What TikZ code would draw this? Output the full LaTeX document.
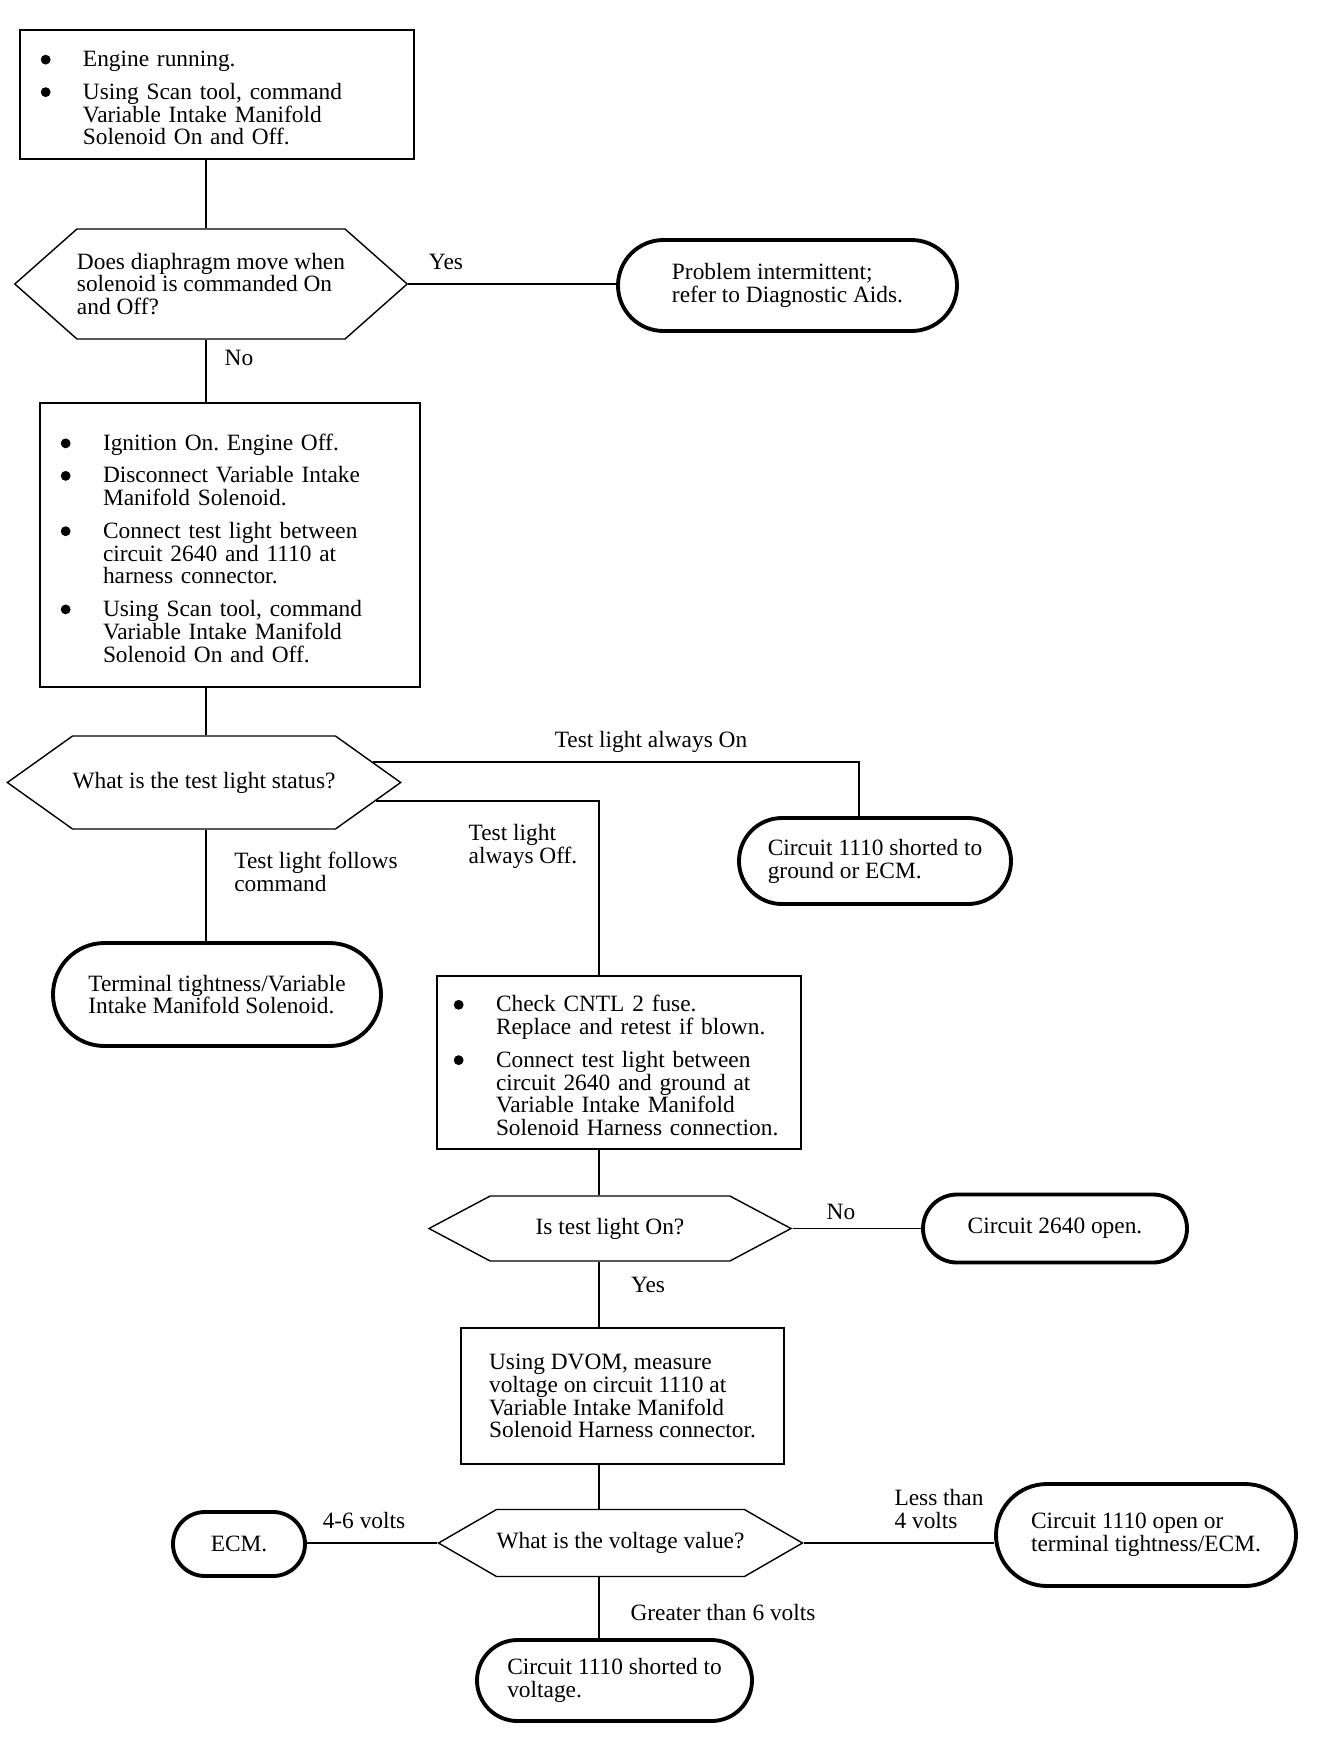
\documentclass[tikz,border=0pt]{standalone}
\usepackage{fontspec}
\setmainfont{Liberation Serif}
\usepackage{tikz}
\usetikzlibrary{
    shapes.misc,
    shapes.symbols,
    calc
}

\frenchspacing
\newcommand{\bdot}{\tikz[baseline=-4pt]\fill (0,0) circle (2.8pt);}
\newcommand{\bpt}[1]{\par\hangindent=0.88cm\hangafter=1\noindent\makebox[0.88cm][l]{\hspace{1pt}\bdot}#1\par}
\newcommand{\bgap}{\vspace{5.5pt}}

\begin{document}
\begin{tikzpicture}[
            font=\fontsize{13.3}{13}\selectfont,
            box/.style={draw, line width=0.8pt, align=left, inner xsep=0.38cm, inner ysep=0pt},
            hexa/.style={draw, signal, signal to=east and west, line width=0.8pt, align=left, inner sep=0pt},
            term/.style={draw, rounded rectangle, line width=2.2pt, align=left, inner sep=0pt},
            lbl/.style={align=left, inner sep=0pt},
            link/.style={line width=1pt}
        ]
            \useasboundingbox (0, 0) rectangle (26.88, -34.8);
            \coordinate (lspine) at (4.12, 0);
            \coordinate (spine) at (11.98, 0);

            % ====== Diaphragm check ======
            \node[box, text width=7.12cm, minimum height=2.58cm] (running) at (4.34, -1.89)
                {\bpt{Engine running.}\bgap
                 \bpt{Using Scan tool, command\newline Variable Intake Manifold\newline Solenoid On and Off.}};
            \node[hexa, signal pointer angle=83, minimum width=7.72cm, minimum height=2.2cm] (diaphragm) at (4.22, -5.68)
                {Does diaphragm move when\\solenoid is commanded On\\and Off?};
            \node[term, minimum width=6.78cm, minimum height=1.82cm] (intermit) at (15.75, -5.71)
                {Problem intermittent;\\refer to Diagnostic Aids.};

            \draw[link] (running.south -| lspine) -- (diaphragm.north -| lspine);
            \draw[link] (diaphragm.east) -- (diaphragm.east -| intermit.west);
            \node[lbl] (yes1) at (8.92, -5.24) {Yes};
            \node[lbl] (no1) at (4.78, -7.16) {No};

            % ====== Test light across harness ======
            \node[box, text width=6.84cm, minimum height=5.68cm] (ignition) at (4.6, -10.9)
                {\bpt{Ignition On. Engine Off.}\bgap
                 \bpt{Disconnect Variable Intake\newline Manifold Solenoid.}\bgap
                 \bpt{Connect test light between\newline circuit 2640 and 1110 at\newline harness connector.}\bgap
                 \bpt{Using Scan tool, command\newline Variable Intake Manifold\newline Solenoid On and Off.}};
            \node[hexa, signal pointer angle=71, minimum width=7.76cm, minimum height=1.86cm] (status) at (4.08, -15.65)
                {What is the test light status?};
            \node[term, minimum width=5.44cm, minimum height=1.72cm] (shortgnd) at (17.5, -17.22)
                {Circuit 1110 shorted to\\ground or ECM.};
            \node[term, minimum width=6.56cm, minimum height=2.06cm] (tightness) at (4.34, -19.89)
                {Terminal tightness/Variable\\Intake Manifold Solenoid.};

            \draw[link] (diaphragm.south -| lspine) -- (ignition.north -| lspine);
            \draw[link] (ignition.south -| lspine) -- (status.north -| lspine);
            \draw[link] (status.south -| lspine) -- (tightness.north -| lspine);
            \draw[link] (status.7) -| ([xshift=-0.32cm]shortgnd.north);
            \draw[link] (status.-6) -| (spine |- 0, -19.52);
            \node[lbl] (alwayson) at (13.02, -14.84) {Test light always On};
            \node[lbl] (alwaysoff) at (10.46, -16.92) {Test light\\always Off.};
            \node[lbl] (follows) at (6.32, -17.44) {Test light follows\\command};

            % ====== Fuse and feed check ======
            \node[box, text width=6.68cm, inner xsep=0.3cm, minimum height=3.46cm] (fuse) at (12.38, -21.25)
                {\bpt{Check CNTL 2 fuse.\newline Replace and retest if blown.}\bgap
                 \bpt{Connect test light between\newline circuit 2640 and ground at\newline Variable Intake Manifold\newline Solenoid Harness connection.}};
            \node[hexa, signal pointer angle=56, minimum width=7.24cm, minimum height=1.3cm] (lighton) at (12.2, -24.57)
                {Is test light On?};
            \node[term, minimum width=5.28cm, minimum height=1.36cm] (open2640) at (21.1, -24.57)
                {Circuit 2640 open.};

            \draw[link] (fuse.south -| spine) -- (lighton.north -| spine);
            \draw[link] (lighton.east) -- (lighton.east -| open2640.west);
            \node[lbl] (no2) at (16.82, -24.24) {No};
            \node[lbl] (yes2) at (12.96, -25.7) {Yes};

            % ====== Voltage on 1110 ======
            \node[box, minimum width=6.46cm, minimum height=2.72cm] (dvom) at (12.45, -27.92)
                {Using DVOM, measure\\voltage on circuit 1110 at\\Variable Intake Manifold\\Solenoid Harness connector.};
            \node[hexa, signal pointer angle=60, minimum width=7.18cm, minimum height=1.34cm] (voltage) at (12.41, -30.86)
                {What is the voltage value?};
            \node[term, minimum width=2.64cm, minimum height=1.28cm] (ecm) at (4.78, -30.88) {ECM.};
            \node[term, minimum width=6.0cm, minimum height=2.04cm] (open1110) at (22.92, -30.7)
                {Circuit 1110 open or\\terminal tightness/ECM.};
            \node[term, minimum width=5.5cm, minimum height=1.62cm] (shortvolt) at (12.29, -33.61)
                {Circuit 1110 shorted to\\voltage.};

            \draw[link] (lighton.south -| spine) -- (dvom.north -| spine);
            \draw[link] (dvom.south -| spine) -- (voltage.north -| spine);
            \draw[link] (voltage.west) -- (voltage.west -| ecm.east);
            \draw[link] (voltage.east) -- (voltage.east -| open1110.west);
            \draw[link] (voltage.south -| spine) -- (shortvolt.north -| spine);
            \node[lbl] (midvolt) at (7.28, -30.4) {4-6 volts};
            \node[lbl] (lowvolt) at (18.78, -30.18) {Less than\\4 volts};
            \node[lbl] (highvolt) at (14.46, -32.24) {Greater than 6 volts};
        \end{tikzpicture}
\end{document}
